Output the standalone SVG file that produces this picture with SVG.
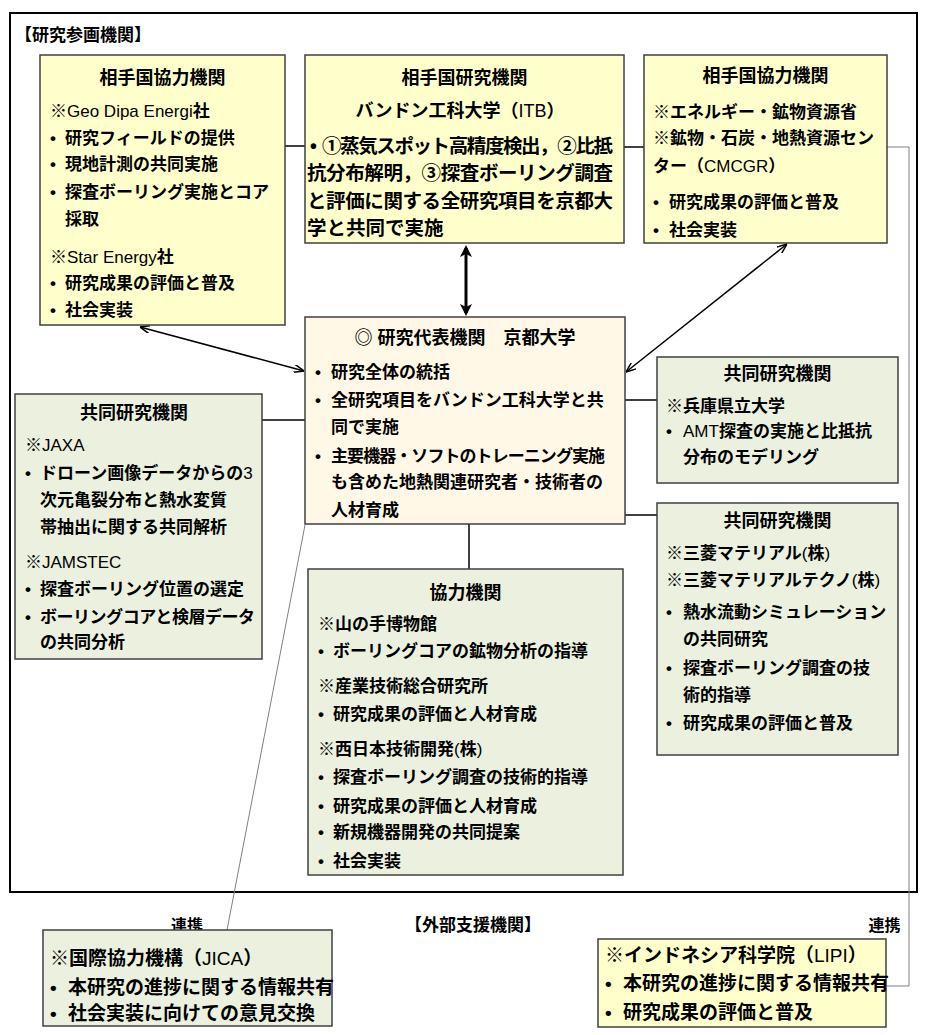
<svg xmlns="http://www.w3.org/2000/svg" width="926" height="1035" viewBox="0 0 926 1035">
<defs>
<style>
.frame{fill:none;stroke:#000;stroke-width:2}
.by{fill:#FFFFCC;stroke:#404040;stroke-width:1.5}
.bk{fill:#FFF8E6;stroke:#404040;stroke-width:1.5}
.bg{fill:#EBF1DE;stroke:#404040;stroke-width:1.5}
text{font-family:"Liberation Sans","Noto Sans CJK JP",sans-serif;font-weight:bold;font-size:17px;fill:#000}
.h{font-size:18px;text-anchor:middle}
.lb{font-size:16px;text-anchor:middle}
.big{font-size:19.5px}
.ext{font-size:19px}
.n{font-weight:normal}
.ln{fill:none;stroke:#000;stroke-width:1.5}
.gl{fill:none;stroke:#808080;stroke-width:1}
</style>
<marker id="ah" viewBox="0 0 10 8" refX="10" refY="4" markerWidth="10" markerHeight="8" markerUnits="userSpaceOnUse" orient="auto-start-reverse"><path d="M0,0 L10,4 L0,8" fill="none" stroke="#000" stroke-width="1.5"/></marker>
<marker id="ahb" viewBox="0 0 12 12" refX="9" refY="6" markerWidth="12" markerHeight="12" markerUnits="userSpaceOnUse" orient="auto-start-reverse"><path d="M0,0 L12,6 L0,12 L3,6 z" fill="#000"/></marker>
</defs>

<rect class="frame" x="10" y="13" width="907" height="879"/>
<text x="15" y="41">【研究参画機関】</text>
<text x="405" y="931">【外部支援機関】</text>
<text class="lb" x="187" y="931">連携</text>
<text class="lb" x="884.5" y="931">連携</text>

<g id="connectors">
<line class="ln" x1="285" y1="146" x2="305" y2="146"/>
<line class="ln" x1="624" y1="147" x2="644" y2="147"/>
<line class="ln" x1="262" y1="420" x2="305" y2="420"/>
<line class="ln" x1="625" y1="400" x2="657" y2="400"/>
<line class="ln" x1="625" y1="515" x2="657" y2="515"/>
<line class="ln" x1="469" y1="524" x2="469" y2="569"/>
<line x1="466" y1="248" x2="466" y2="313" stroke="#000" stroke-width="3" marker-start="url(#ahb)" marker-end="url(#ahb)"/>
<line x1="140" y1="327" x2="304" y2="371" stroke="#000" stroke-width="1.5" marker-start="url(#ah)" marker-end="url(#ah)"/>
<line x1="787" y1="244" x2="626" y2="372" stroke="#000" stroke-width="1.5" marker-start="url(#ah)" marker-end="url(#ah)"/>
<line class="gl" x1="305" y1="525" x2="227" y2="930"/>
<polyline class="gl" points="887,147 909,147 909,986 886,986"/>
</g>

<g id="partner-coop-left">
<rect class="by" x="40" y="55" width="245" height="270"/>
<text class="h" x="162.5" y="84">相手国協力機関</text>
<text x="50" y="117">※<tspan class="n">Geo Dipa Energi</tspan>社</text>
<text y="144"><tspan x="50">•</tspan><tspan x="65">研究フィールドの提供</tspan></text>
<text y="170"><tspan x="50">•</tspan><tspan x="65">現地計測の共同実施</tspan></text>
<text y="198"><tspan x="50">•</tspan><tspan x="65">探査ボーリング実施とコア</tspan></text>
<text x="65" y="225">採取</text>
<text x="50" y="263">※<tspan class="n">Star Energy</tspan>社</text>
<text y="289"><tspan x="50">•</tspan><tspan x="65">研究成果の評価と普及</tspan></text>
<text y="316"><tspan x="50">•</tspan><tspan x="65">社会実装</tspan></text>
</g>

<g id="partner-research">
<rect class="by" x="305" y="55" width="319" height="188"/>
<text class="h" x="464.5" y="84">相手国研究機関</text>
<text class="h" x="460" y="117">バンドン工科大学（<tspan class="n">ITB</tspan>）</text>
<text class="big" x="310" y="153">•</text>
<text class="big" x="322" y="153" textLength="291" lengthAdjust="spacing">①蒸気スポット高精度検出，②比抵</text>
<text class="big" x="307" y="180" textLength="306" lengthAdjust="spacing">抗分布解明，③探査ボーリング調査</text>
<text class="big" x="307" y="208" textLength="306" lengthAdjust="spacing">と評価に関する全研究項目を京都大</text>
<text class="big" x="307" y="235">学と共同で実施</text>
</g>

<g id="partner-coop-right">
<rect class="by" x="644" y="55" width="243" height="188"/>
<text class="h" x="765.5" y="82">相手国協力機関</text>
<text x="653" y="117.5">※エネルギー・鉱物資源省</text>
<text x="653" y="143.5">※鉱物・石炭・地熱資源セン</text>
<text x="653" y="171.5">ター（<tspan class="n">CMCGR</tspan>）</text>
<text y="208"><tspan x="653">•</tspan><tspan x="669">研究成果の評価と普及</tspan></text>
<text y="236"><tspan x="653">•</tspan><tspan x="669">社会実装</tspan></text>
</g>

<g id="kyoto">
<rect class="bk" x="305" y="317" width="320" height="207"/>
<text class="h" x="465" y="343.5">◎ 研究代表機関　京都大学</text>
<text y="378"><tspan x="315">•</tspan><tspan x="331">研究全体の統括</tspan></text>
<text y="406"><tspan x="315">•</tspan><tspan x="331">全研究項目をバンドン工科大学と共</tspan></text>
<text x="331" y="433">同で実施</text>
<text x="315" y="461.5">•</text>
<text x="331" y="461.5" textLength="274" lengthAdjust="spacing">主要機器・ソフトのトレーニング実施</text>
<text x="331" y="488">も含めた地熱関連研究者・技術者の</text>
<text x="331" y="516">人材育成</text>
</g>

<g id="joint-left">
<rect class="bg" x="15" y="394" width="247" height="265"/>
<text class="h" x="134" y="418.5">共同研究機関</text>
<text x="25" y="450.5">※<tspan class="n">JAXA</tspan></text>
<text y="478.5"><tspan x="25">•</tspan><tspan x="40">ドローン画像データからの<tspan class="n">3</tspan></tspan></text>
<text x="40" y="505.5">次元亀裂分布と熱水変質</text>
<text x="40" y="533">帯抽出に関する共同解析</text>
<text x="25" y="568">※<tspan class="n">JAMSTEC</tspan></text>
<text y="595"><tspan x="25">•</tspan><tspan x="40">探査ボーリング位置の選定</tspan></text>
<text x="25" y="622.5">•</text>
<text x="40" y="622.5" textLength="215" lengthAdjust="spacing">ボーリングコアと検層データ</text>
<text x="40" y="648">の共同分析</text>
</g>

<g id="joint-hyogo">
<rect class="bg" x="657" y="357" width="241" height="126"/>
<text class="h" x="777.5" y="380">共同研究機関</text>
<text x="666" y="411.5">※兵庫県立大学</text>
<text y="436.5"><tspan x="666">•</tspan><tspan x="683"><tspan class="n">AMT</tspan>探査の実施と比抵抗</tspan></text>
<text x="683" y="463">分布のモデリング</text>
</g>

<g id="joint-mitsubishi">
<rect class="bg" x="657" y="503" width="241" height="252"/>
<text class="h" x="777.5" y="527">共同研究機関</text>
<text x="666" y="558.5">※三菱マテリアル<tspan class="n">(</tspan>株<tspan class="n">)</tspan></text>
<text x="666" y="586">※三菱マテリアルテクノ<tspan class="n">(</tspan>株<tspan class="n">)</tspan></text>
<text y="618"><tspan x="666">•</tspan><tspan x="683">熱水流動シミュレーション</tspan></text>
<text x="683" y="645">の共同研究</text>
<text y="674"><tspan x="666">•</tspan><tspan x="683">探査ボーリング調査の技</tspan></text>
<text x="683" y="700.5">術的指導</text>
<text y="729"><tspan x="666">•</tspan><tspan x="683">研究成果の評価と普及</tspan></text>
</g>

<g id="cooperating">
<rect class="bg" x="308" y="569" width="315" height="306"/>
<text class="h" x="465.5" y="598.5">協力機関</text>
<text x="318" y="630">※山の手博物館</text>
<text y="656.5"><tspan x="318">•</tspan><tspan x="333">ボーリングコアの鉱物分析の指導</tspan></text>
<text x="318" y="691.5">※産業技術総合研究所</text>
<text y="720"><tspan x="318">•</tspan><tspan x="333">研究成果の評価と人材育成</tspan></text>
<text x="318" y="755">※西日本技術開発<tspan class="n">(</tspan>株<tspan class="n">)</tspan></text>
<text y="783"><tspan x="318">•</tspan><tspan x="333">探査ボーリング調査の技術的指導</tspan></text>
<text y="811.5"><tspan x="318">•</tspan><tspan x="333">研究成果の評価と人材育成</tspan></text>
<text y="838"><tspan x="318">•</tspan><tspan x="333">新規機器開発の共同提案</tspan></text>
<text y="866.5"><tspan x="318">•</tspan><tspan x="333">社会実装</tspan></text>
</g>

<g id="jica">
<rect class="bg" x="43" y="930" width="289" height="96"/>
<text class="ext" x="50" y="965">※国際協力機構（<tspan class="n">JICA</tspan>）</text>
<text class="ext" y="994"><tspan x="50">•</tspan><tspan x="68">本研究の進捗に関する情報共有</tspan></text>
<text class="ext" y="1020"><tspan x="50">•</tspan><tspan x="68">社会実装に向けての意見交換</tspan></text>
</g>

<g id="lipi">
<rect class="by" x="598" y="939" width="288" height="88"/>
<text class="ext" x="605" y="962">※インドネシア科学院（<tspan class="n">LIPI</tspan>）</text>
<text class="ext" y="990"><tspan x="605">•</tspan><tspan x="623">本研究の進捗に関する情報共有</tspan></text>
<text class="ext" y="1019"><tspan x="605">•</tspan><tspan x="623">研究成果の評価と普及</tspan></text>
</g>
</svg>
